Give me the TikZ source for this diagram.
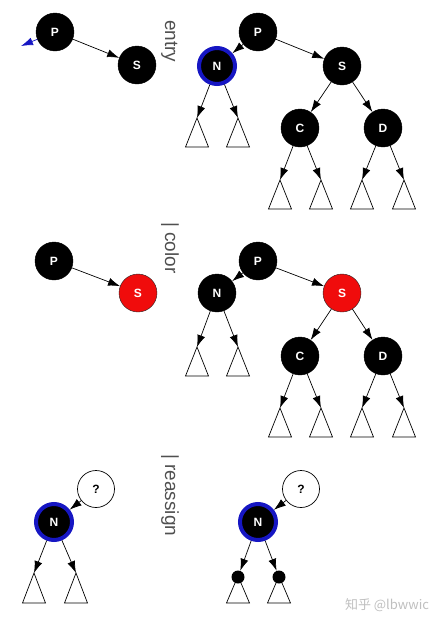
\documentclass[tikz,border=0pt]{standalone}
\usepackage{fontspec}
\setmainfont{Liberation Sans}
\newfontfamily\cjkfont{Noto Sans CJK SC}
\usetikzlibrary{arrows.meta, positioning}
\definecolor{nblue}{RGB}{22,22,195}
\definecolor{sred}{RGB}{240,12,12}
\definecolor{labgray}{RGB}{80,80,80}

\begin{document}
\begin{tikzpicture}[x=1pt, y=-1pt,
  blk/.style={circle, fill=black, draw=black, minimum size=38pt, inner sep=0pt,
    text=white, font=\fontsize{12}{14}\selectfont\bfseries},
  redn/.style={blk, fill=sred, draw=black!85},
  cur/.style={blk, draw=nblue, line width=4pt, minimum size=36pt},
  unk/.style={blk, fill=white, text=black, line width=0.7pt, minimum size=37pt},
  leafdot/.style={circle, fill=black, minimum size=13pt, inner sep=0pt},
  edge/.style={-{Latex[length=12pt,width=8pt]}, line width=0.7pt},
  tri/.style={line width=0.7pt},
  lab/.style={rotate=-90, anchor=base west, inner sep=0pt, text=labgray,
    font=\fontsize{19}{22}\selectfont}]
\useasboundingbox (0,0) rectangle (443,625);

% entry
\node (eP) at (55,32) [blk] {P};
\node (eS) at (137,65) [blk] {S};
\coordinate (eX) at (21,46);
\draw [edge, nblue] (eP) -- (eX);
\draw [edge] (eP) -- (eS);
\node (lentry) at (165,20) [lab] {entry};

\node (aP) at (258,32) [blk] {P};
\node (aN) at (217,66) [cur] {N};
\node (aS) at (342,66) [blk] {S};
\node (aC) at (300,128) [blk] {C};
\node (aD) at (383,128) [blk] {D};
\coordinate (a1) at (197,118);
\coordinate (a2) at (238,118);
\coordinate (a3) at (280,180);
\coordinate (a4) at (321,180);
\coordinate (a5) at (362,180);
\coordinate (a6) at (404,180);
\draw [edge] (aP) -- (aN);
\draw [edge] (aP) -- (aS);
\draw [edge] (aS) -- (aC);
\draw [edge] (aS) -- (aD);
\draw [edge] (aN) -- (a1);
\draw [edge] (aN) -- (a2);
\draw [edge] (aC) -- (a3);
\draw [edge] (aC) -- (a4);
\draw [edge] (aD) -- (a5);
\draw [edge] (aD) -- (a6);
\draw [tri] (a1) -- ++(-11.5,29) -- ++(23,0) -- cycle;
\draw [tri] (a2) -- ++(-11.5,29) -- ++(23,0) -- cycle;
\draw [tri] (a3) -- ++(-11.5,29) -- ++(23,0) -- cycle;
\draw [tri] (a4) -- ++(-11.5,29) -- ++(23,0) -- cycle;
\draw [tri] (a5) -- ++(-11.5,29) -- ++(23,0) -- cycle;
\draw [tri] (a6) -- ++(-11.5,29) -- ++(23,0) -- cycle;

% color
\node (cP) at (54,261) [blk] {P};
\node (cS) at (138,293) [redn] {S};
\draw [edge] (cP) -- (cS);
\node (lcolor) at (165,222) [lab] {| color};

\node (bP) at (258,261) [blk] {P};
\node (bN) at (217,293) [blk] {N};
\node (bS) at (342,293) [redn] {S};
\node (bC) at (300,356) [blk] {C};
\node (bD) at (383,356) [blk] {D};
\coordinate (b1) at (197,347);
\coordinate (b2) at (238,347);
\coordinate (b3) at (280,408);
\coordinate (b4) at (321,408);
\coordinate (b5) at (362,408);
\coordinate (b6) at (404,408);
\draw [edge] (bP) -- (bN);
\draw [edge] (bP) -- (bS);
\draw [edge] (bS) -- (bC);
\draw [edge] (bS) -- (bD);
\draw [edge] (bN) -- (b1);
\draw [edge] (bN) -- (b2);
\draw [edge] (bC) -- (b3);
\draw [edge] (bC) -- (b4);
\draw [edge] (bD) -- (b5);
\draw [edge] (bD) -- (b6);
\draw [tri] (b1) -- ++(-11.5,29) -- ++(23,0) -- cycle;
\draw [tri] (b2) -- ++(-11.5,29) -- ++(23,0) -- cycle;
\draw [tri] (b3) -- ++(-11.5,29) -- ++(23,0) -- cycle;
\draw [tri] (b4) -- ++(-11.5,29) -- ++(23,0) -- cycle;
\draw [tri] (b5) -- ++(-11.5,29) -- ++(23,0) -- cycle;
\draw [tri] (b6) -- ++(-11.5,29) -- ++(23,0) -- cycle;

% reassign
\node (rQ) at (96,489) [unk] {?};
\node (rN) at (54,522) [cur] {N};
\coordinate (r1) at (34,573);
\coordinate (r2) at (76,573);
\draw [edge] (rQ) -- (rN);
\draw [edge] (rN) -- (r1);
\draw [edge] (rN) -- (r2);
\draw [tri] (r1) -- ++(-11.5,30) -- ++(23,0) -- cycle;
\draw [tri] (r2) -- ++(-11.5,30) -- ++(23,0) -- cycle;
\node (lreassign) at (165,454) [lab] {| reassign};

\node (sQ) at (301,489) [unk] {?};
\node (sN) at (258,522) [cur] {N};
\draw [tri] (238,576) -- ++(-11.5,27) -- ++(23,0) -- cycle;
\draw [tri] (279,576) -- ++(-11.5,27) -- ++(23,0) -- cycle;
\node (s1) at (238,577) [leafdot] {};
\node (s2) at (279,577) [leafdot] {};
\draw [edge] (sQ) -- (sN);
\draw [edge] (sN) -- (s1);
\draw [edge] (sN) -- (s2);

\node (mark) at (387,605) [text=black!25, font=\cjkfont\fontsize{13}{15}\selectfont] {知乎 @lbwwic};
\end{tikzpicture}
\end{document}
